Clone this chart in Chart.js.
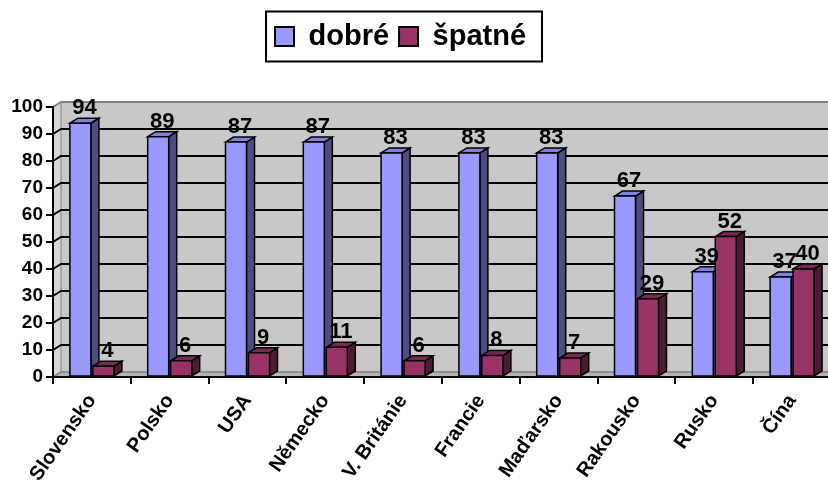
<!DOCTYPE html>
<html><head><meta charset="utf-8">
<script src="https://cdn.jsdelivr.net/npm/chart.js@4.4.0/dist/chart.umd.min.js"></script>
<style>
html,body{margin:0;padding:0;background:#fff;overflow:hidden;}
#wrap{width:831px;height:486px;position:relative;}
</style></head><body>
<div id="wrap"><canvas id="c"></canvas></div>
<script>
const categories = ['Slovensko','Polsko','USA','Německo','V. Británie','Francie','Maďarsko','Rakousko','Rusko','Čína'];
const dobre = [94,89,87,87,83,83,83,67,39,37];
const spatne = [4,6,9,11,6,8,7,29,52,40];
const seriesNames = ['dobré','špatné'];
const yMin = 0, yMax = 100, yStep = 10;

const FONT = '"Liberation Sans", Arial, sans-serif';
const DX = 8, DY = 5;
const faces = [
  {front:'#9999FF', top:'#8080DD', side:'#4D4D80'},
  {front:'#993366', top:'#7A2952', side:'#4D1A33'}
];

function poly(ctx, pts, fill){
  ctx.beginPath();
  ctx.moveTo(pts[0][0], pts[0][1]);
  for (let i=1;i<pts.length;i++) ctx.lineTo(pts[i][0], pts[i][1]);
  ctx.closePath();
  if (fill){ ctx.fillStyle = fill; ctx.fill(); }
  ctx.stroke();
}

const walls = {
  id:'walls',
  beforeDraw(chart){
    const {ctx, chartArea:a, scales:{y}} = chart;
    ctx.save();
    ctx.fillStyle = '#C8C8C8';
    ctx.fillRect(a.left+DX, a.top-DY, a.right-a.left-DX, a.bottom-a.top);
    ctx.beginPath();
    ctx.moveTo(a.left, a.bottom); ctx.lineTo(a.left, a.top);
    ctx.lineTo(a.left+DX, a.top-DY); ctx.lineTo(a.left+DX, a.bottom-DY); ctx.closePath();
    ctx.fillStyle = '#D6D6D6'; ctx.fill();
    ctx.beginPath();
    ctx.moveTo(a.left, a.bottom); ctx.lineTo(a.left+DX, a.bottom-DY);
    ctx.lineTo(a.right, a.bottom-DY); ctx.lineTo(a.right, a.bottom); ctx.closePath();
    ctx.fillStyle = '#B4B4B4'; ctx.fill();
    ctx.strokeStyle = '#808080'; ctx.lineWidth = 1.5;
    ctx.beginPath(); ctx.moveTo(a.left, a.bottom); ctx.lineTo(a.left+DX, a.bottom-DY); ctx.lineTo(a.right, a.bottom-DY); ctx.stroke();
    ctx.lineWidth = 2;
    ctx.beginPath(); ctx.moveTo(a.left, a.top); ctx.lineTo(a.left+DX, a.top-DY); ctx.lineTo(a.right, a.top-DY); ctx.stroke();
    ctx.beginPath(); ctx.moveTo(a.left+DX, a.top-DY); ctx.lineTo(a.left+DX, a.bottom-DY); ctx.lineWidth=1; ctx.stroke();
    ctx.strokeStyle = '#000'; ctx.lineWidth = 2;
    for (let v = yMin + yStep; v < yMax; v += yStep){
      const py = y.getPixelForValue(v);
      ctx.beginPath();
      ctx.moveTo(a.left, py); ctx.lineTo(a.left+DX, py-DY); ctx.lineTo(a.right, py-DY);
      ctx.stroke();
    }
    ctx.restore();
  }
};

const bars3d = {
  id:'bars3d',
  beforeDatasetDraw(){ return false; },
  afterDatasetsDraw(chart){
    const ctx = chart.ctx;
    const metas = [chart.getDatasetMeta(0), chart.getDatasetMeta(1)];
    ctx.save();
    ctx.lineJoin = 'miter'; ctx.lineWidth = 1.5; ctx.strokeStyle = '#000';
    for (let i=0;i<categories.length;i++){
      metas.forEach((m,d)=>{
        const el = m.data[i];
        const {x, y, base, width} = el.getProps(['x','y','base','width'], true);
        const l = x - width/2, r = x + width/2;
        const f = faces[d];
        poly(ctx, [[r,y],[r+DX,y-DY],[r+DX,base-DY],[r,base]], f.side);
        poly(ctx, [[l,y],[l+DX,y-DY],[r+DX,y-DY],[r,y]], f.top);
        poly(ctx, [[l,y],[r,y],[r,base],[l,base]], f.front);
      });
    }
    ctx.font = 'bold 22px ' + FONT;
    ctx.fillStyle = '#000'; ctx.textAlign = 'center'; ctx.textBaseline = 'alphabetic';
    metas.forEach((m,d)=>{
      m.data.forEach((el,i)=>{
        const v = chart.data.datasets[d].data[i];
        ctx.fillText(String(v), el.x + DX/2, el.y - DY - 4);
      });
    });
    ctx.restore();
  }
};

const legendPos = {
  id:'legendPos',
  afterLayout(chart){
    const lg = chart.legend;
    lg.top -= 46; lg.bottom -= 46;
    const target = 275, pad = 10;
    lg.right = 2*target - lg.left - pad + lg.lineWidths[0];
  },
  afterDraw(chart){
    const hb = chart.legend.legendHitBoxes;
    if (!hb || !hb.length) return;
    const ctx = chart.ctx;
    const last = hb[hb.length-1];
    const l = hb[0].left - 9, r = last.left + last.width + 16;
    const cy = hb[0].top + hb[0].height/2;
    ctx.save();
    ctx.strokeStyle = '#000'; ctx.lineWidth = 2;
    ctx.strokeRect(l, cy-25, r-l, 50);
    ctx.restore();
  }
};

new Chart(document.getElementById('c'), {
  type:'bar',
  data:{
    labels: categories,
    datasets:[
      {label: seriesNames[0], data: dobre, backgroundColor: faces[0].front, borderColor:'#000', borderWidth:2},
      {label: seriesNames[1], data: spatne, backgroundColor: faces[1].front, borderColor:'#000', borderWidth:2}
    ]
  },
  options:{
    responsive:true, maintainAspectRatio:false, animation:false,
    categoryPercentage: 0.591, barPercentage: 0.913,
    layout:{padding:{top:58,left:0,right:0,bottom:0}},
    plugins:{
      tooltip:{enabled:false},
      legend:{
        position:'top',
        labels:{font:{size:29, weight:'bold', family:FONT}, color:'#000', boxWidth:19, boxHeight:19, padding:10}
      }
    },
    scales:{
      x:{
        grid:{drawOnChartArea:false, drawTicks:true, tickLength:7, color:'#000', lineWidth:2, offset:true},
        border:{display:true, color:'#000', width:2},
        ticks:{font:{size:20, weight:'bold', family:FONT}, color:'#000', maxRotation:55, minRotation:55, autoSkip:false, padding:6},
        afterFit(s){ s.height = 109; }
      },
      y:{
        min:yMin, max:yMax,
        grid:{drawOnChartArea:false, drawTicks:true, tickLength:7, color:'#000', lineWidth:2},
        border:{display:true, color:'#000', width:2},
        ticks:{stepSize:yStep, font:{size:19, weight:'bold', family:FONT}, color:'#000', padding:3},
        afterFit(s){ s.width = 53; }
      }
    }
  },
  plugins:[walls, bars3d, legendPos]
});
</script>
</body></html>
